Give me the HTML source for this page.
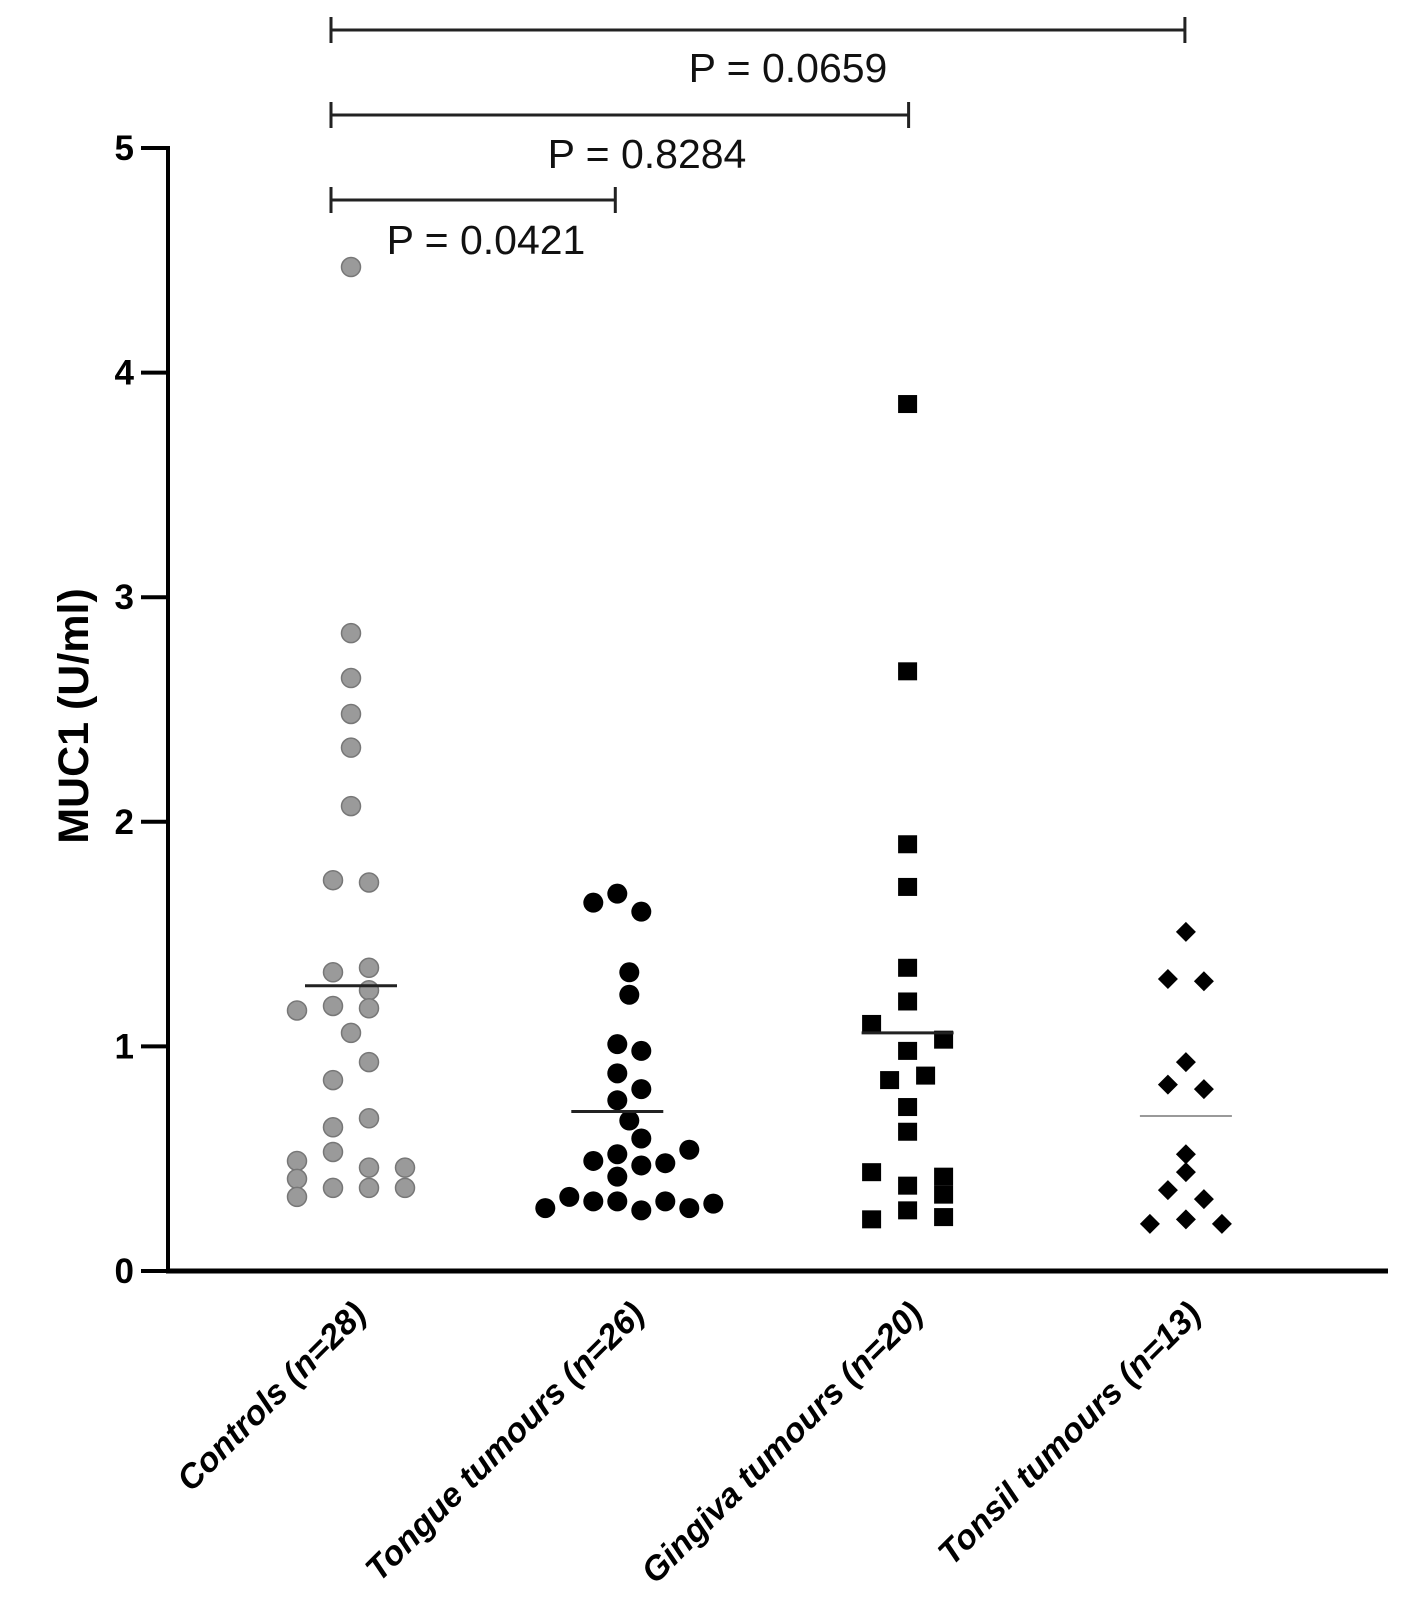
<!DOCTYPE html>
<html><head><meta charset="utf-8"><style>
html,body{margin:0;padding:0;background:#fff;}
svg{display:block;font-family:"Liberation Sans",Arial,sans-serif;}
</style></head><body>
<svg id="chart" width="1402" height="1603" viewBox="0 0 1402 1603" xmlns="http://www.w3.org/2000/svg">
<g id="axes"></g>
<g id="marks"></g>
<g id="brackets"></g>
<text transform="translate(88,716) rotate(-90)" text-anchor="middle" font-size="43" font-weight="bold">MUC1 (U/ml)</text>
</svg>
<script>
const categories = ["Controls (n=28)","Tongue tumours (n=26)","Gingiva tumours (n=20)","Tonsil tumours (n=13)"];
const yTicks = [0,1,2,3,4,5];
const controlsValues = [4.47,2.84,2.64,2.48,2.33,2.07,1.74,1.73,1.33,1.35,1.25,1.16,1.18,1.17,1.06,0.93,0.85,0.68,0.64,0.53,0.49,0.46,0.46,0.41,0.33,0.37,0.37,0.37];
const controlsSlots  = [0,0,0,0,0,0,-1,1,-1,1,1,-3,-1,1,0,1,-1,1,-1,-1,-3,1,3,-3,-3,-1,1,3];
const tongueValues = [1.64,1.68,1.60,1.33,1.23,1.01,0.98,0.88,0.81,0.76,0.67,0.59,0.54,0.49,0.52,0.47,0.48,0.42,0.28,0.33,0.31,0.31,0.27,0.31,0.28,0.30];
const tongueSlots  = [-1,0,1,0.5,0.5,0,1,0,1,0,0.5,1,3,-1,0,1,2,0,-3,-2,-1,0,1,2,3,4];
const gingivaValues = [3.86,2.67,1.90,1.71,1.35,1.20,1.10,1.03,0.98,0.85,0.87,0.73,0.62,0.44,0.38,0.42,0.34,0.27,0.23,0.24];
const gingivaSlots  = [0,0,0,0,0,0,-2,2,0,-1,1,0,0,-2,0,2,2,0,-2,2];
const tonsilValues = [1.51,1.30,1.29,0.93,0.83,0.81,0.52,0.44,0.36,0.32,0.21,0.23,0.21];
const tonsilSlots  = [0,-1,1,0,-1,1,0,0,-1,1,-2,0,2];
const means = [1.27,0.71,1.06,0.69];
const pValues = ["P = 0.0421","P = 0.8284","P = 0.0659"];
const pTargets = [1,2,3];

const NS="http://www.w3.org/2000/svg";
const X0=168, XEND=1388, Y0=1271, Y5=148;
const catX = i => 351 + i*278.3;
const yScale = v => Y0 - (v/5)*(Y0-Y5);
function mk(tag, attrs, parent){const e=document.createElementNS(NS,tag);for(const k in attrs)e.setAttribute(k,attrs[k]);parent.appendChild(e);return e;}
const axes=document.getElementById('axes'), marks=document.getElementById('marks'), br=document.getElementById('brackets');

let ya=mk('line',{x1:X0,y1:Y5-2,x2:X0,y2:Y0+2,stroke:'#000','stroke-width':4},axes);


let xa=mk('line',{x1:X0-2,y1:Y0,x2:XEND,y2:Y0,stroke:'#000','stroke-width':5},axes);


yTicks.forEach(t=>{
  const y=yScale(t);
  let tk=mk('line',{x1:141,y1:y,x2:X0,y2:y,stroke:'#000','stroke-width':4},axes);
  
  
  let tl=mk('text',{x:134,y:y+12,'text-anchor':'end','font-size':35,'font-weight':'bold'},axes);
  tl.textContent=t;
  
  
});
categories.forEach((c,i)=>{
  const ax=catX(i)+17, ay=1316;
  let t=mk('text',{x:ax,y:ay,'text-anchor':'end','font-size':34,'font-weight':'bold','font-style':'italic',transform:`rotate(-45 ${ax} ${ay})`},axes);
  t.textContent=c;
  
  
});

function drawGroup(vals, slots, gi, kind, slotW, dx){
  vals.forEach((v,k)=>{
    const cx=catX(gi)+dx+slots[k]*slotW, cy=yScale(v);
    let e;
    if(kind==='gray') e=mk('circle',{cx,cy,r:9.5,fill:'#9a9a9a',stroke:'#777','stroke-width':1.5},marks);
    else if(kind==='black') e=mk('circle',{cx,cy,r:10,fill:'#000'},marks);
    else if(kind==='square') e=mk('rect',{x:cx-9.5,y:cy-9,width:19,height:18,fill:'#000'},marks);
    else e=mk('polygon',{points:`${cx},${cy-10} ${cx+10},${cy} ${cx},${cy+10} ${cx-10},${cy}`,fill:'#000'},marks);
    
    
  });
}
drawGroup(controlsValues,controlsSlots,0,'gray',18,0);
drawGroup(tongueValues,tongueSlots,1,'black',24,-12);
drawGroup(gingivaValues,gingivaSlots,2,'square',18,0);
drawGroup(tonsilValues,tonsilSlots,3,'diamond',18,0);

means.forEach((m,i)=>{
  const y=yScale(m), cx=catX(i)+(i===1?-12:0);
  let l=mk('line',{x1:cx-46,y1:y,x2:cx+46,y2:y,stroke:i===3?'#999':'#222','stroke-width':i===3?2:3},marks);
  
  
});

const brY=[200,115,30], txY=[254,168,82];
pValues.forEach((p,i)=>{
  const x1=331, x2=catX(pTargets[i])+(i===0?-14:(i===1?1:-1)), y=brY[i];
  let g=mk('path',{d:`M${x1},${y-13}V${y+13}M${x1},${y}H${x2}M${x2},${y-13}V${y+13}`,stroke:'#222','stroke-width':3,fill:'none'},br);
  
  
  const tx=[486,647,788][i];
  let t=mk('text',{x:tx,y:txY[i],'text-anchor':'middle','font-size':41,fill:'#111'},br);
  t.textContent=p;
  
  
});
</script>
</body></html>
